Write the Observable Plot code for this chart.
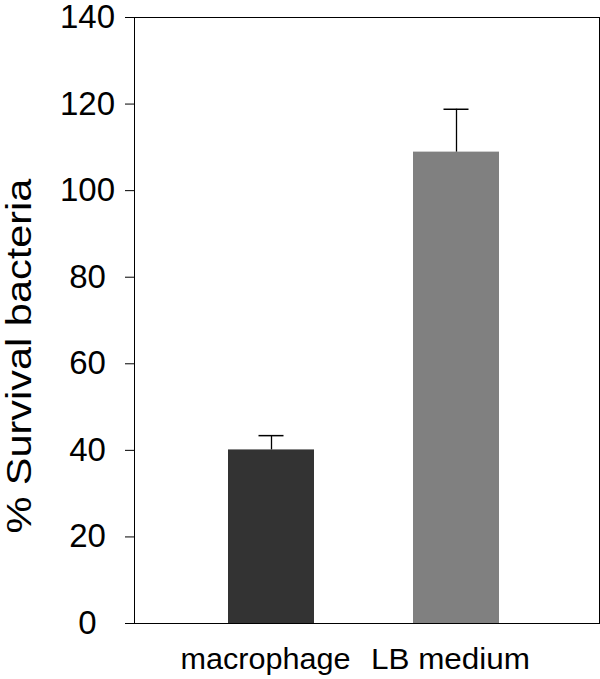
<!DOCTYPE html>
<html>
<head>
<meta charset="utf-8">
<script src="https://cdn.jsdelivr.net/npm/d3@7"></script>
<script src="https://cdn.jsdelivr.net/npm/@observablehq/plot@0.6"></script>
<style>
  html, body { margin: 0; padding: 0; background: white; }
  #chart { width: 600px; height: 679px; }
</style>
</head>
<body>
<div id="chart"></div>
<script>
const categories = ["macrophage", "LB medium"];
const survival = [40.1, 108.9];
const errorUpper = [43.4, 118.8];
const barColors = ["#333333", "#808080"];
const yTicks = [0, 20, 40, 60, 80, 100, 120, 140];
const yLabel = "% Survival bacteria";

const data = categories.map((c, i) => ({
  cat: c, value: survival[i], upper: errorUpper[i], color: barColors[i]
}));

const labelWidths = {"macrophage": 170, "LB medium": 159, "% Survival bacteria": 355};

const chart = Plot.plot({
  width: 600,
  height: 679,
  marginTop: 17,
  marginBottom: 56,
  marginLeft: 134,
  marginRight: 1,
  style: {fontFamily: "'Liberation Sans', Arial, Helvetica, sans-serif", background: "white", color: "black"},
  x: {domain: categories, range: [134, 599], paddingInner: 0.535, paddingOuter: 0.524, align: 0.485, axis: null},
  y: {domain: [0, 140], axis: null},
  color: {type: "identity"},
  marks: [
    Plot.barY(data, {x: "cat", y: "value", fill: "color"}),
    Plot.ruleX(data, {x: "cat", y1: "value", y2: "upper", stroke: "black", strokeWidth: 1.3}),
    Plot.tickY(data, {x: "cat", y: "upper", stroke: "black", strokeWidth: 1.5, insetLeft: 30.5, insetRight: 30.5}),
    Plot.axisY({ticks: yTicks, tickSize: 9, tickPadding: 38, textAnchor: "middle", fontSize: 33, label: null}),
    Plot.frame({stroke: "black"}),
    Plot.text(data, {x: "cat", text: "cat", frameAnchor: "bottom", lineAnchor: "top", dy: 25, dx: -6, fontSize: 29, fill: "black"}),
    Plot.text([yLabel], {frameAnchor: "left", rotate: -90, dx: -114.5, dy: 35.6, fontSize: 35, lineAnchor: "middle", textAnchor: "middle", fill: "black"})
  ]
});

d3.select(chart).selectAll("text").each(function() {
  const t = this.textContent;
  if (labelWidths[t]) {
    this.setAttribute("textLength", labelWidths[t]);
    this.setAttribute("lengthAdjust", "spacingAndGlyphs");
  }
});

document.getElementById("chart").appendChild(chart);
</script>
</body>
</html>
